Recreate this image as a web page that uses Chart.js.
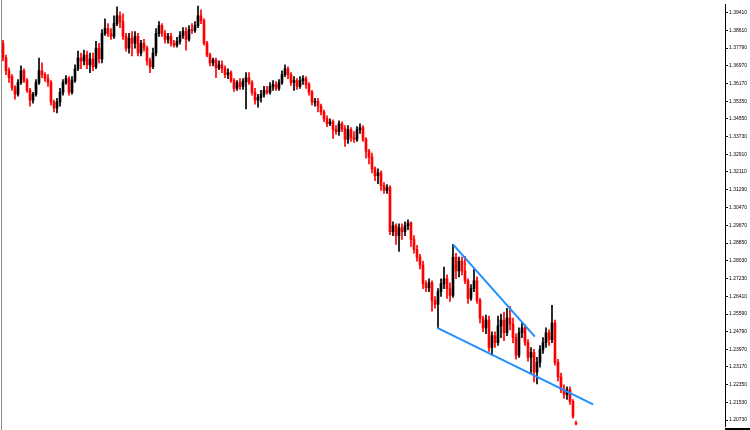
<!DOCTYPE html>
<html>
<head>
<meta charset="utf-8">
<title>Price chart</title>
<script src="https://cdn.jsdelivr.net/npm/chart.js@4/dist/chart.umd.min.js"></script>
<style>
  html, body { margin: 0; padding: 0; background: #fff; }
  #wrap { width: 750px; height: 430px; }
</style>
</head>
<body>
<div id="wrap"><canvas id="priceChart" width="750" height="430"></canvas></div>
<script>
// ── Candle data (one entry per bar, oldest first) ───────────
const opens = [
  1.38010,1.37335,1.36750,1.36480,1.35985,1.35670,1.36210,1.36750,1.36300,1.35850,1.35400,1.35670,1.36210,1.36750,1.36570,1.36390,1.36210,1.35310,1.35040,1.35310,1.35760,1.36210,1.36390,1.35760,1.36300,1.36840,1.37335,1.37200,1.37470,1.37020,1.37290,1.36930,1.37785,
  1.37290,1.38460,1.38685,1.38460,1.38325,1.38910,1.39270,1.39000,1.38325,1.37785,1.38235,1.38010,1.38325,1.37560,1.38010,1.37785,1.37200,1.36930,1.37560,1.38460,1.38820,1.38460,1.38190,1.38325,1.38010,1.37920,1.38100,1.38370,1.38550,1.38190,1.38640,1.38595,1.38820,
  1.39270,1.39045,1.38010,1.37470,1.37110,1.37245,1.36885,1.37020,1.36840,1.36570,1.36660,1.36300,1.35940,1.36210,1.36030,1.36255,1.36435,1.36210,1.35760,1.35400,1.35535,1.35670,1.35850,1.35760,1.36030,1.36120,1.35940,1.36210,1.36570,1.36840,1.36570,1.36210,1.36300,1.36030,
  1.36300,1.36390,1.36120,1.35760,1.35310,1.35355,1.35130,1.34860,1.34545,1.34320,1.34410,1.34050,1.33960,1.34320,1.34095,1.33600,1.34050,1.33690,1.33600,1.34050,1.34140,1.33600,1.33060,1.32790,1.32250,1.31935,1.32070,1.31485,1.31260,1.31395,1.29370,1.29640,1.29190,
  1.29550,1.29370,1.29640,1.29775,1.29010,1.28560,1.28200,1.27840,1.26985,1.26805,1.27030,1.26220,1.26040,1.26625,1.26985,1.27210,1.26760,1.26445,1.28200,1.27570,1.28020,1.27570,1.27120,1.26310,1.26760,1.27120,1.26220,1.25410,1.24960,1.25320,1.24060,1.24600,1.24285,
  1.25050,1.25320,1.24735,1.25410,1.25140,1.24510,1.23700,1.24735,1.24960,1.24285,1.23610,1.23835,1.22935,1.23385,1.23970,1.24285,1.24735,1.24420,1.25185,1.23385,1.22710,1.22125,1.21900,1.22125,1.21585,1.20595
];

const highs = [
  1.38145,1.37470,1.36885,1.36570,1.36075,1.36345,1.36975,1.36840,1.36390,1.35940,1.35760,1.36345,1.37335,1.37110,1.36660,1.36570,1.36300,1.35400,1.35490,1.35940,1.36345,1.36525,1.36480,1.36480,1.37020,1.37650,1.37560,1.37695,1.37650,1.37560,1.37560,1.38100,1.38010,
  1.38640,1.39135,1.38910,1.38685,1.39270,1.39675,1.39450,1.39360,1.38460,1.38460,1.38550,1.38550,1.38460,1.38145,1.38190,1.37875,1.37335,1.37785,1.38685,1.39000,1.38910,1.38595,1.38460,1.38460,1.38145,1.38280,1.38550,1.38730,1.38730,1.38820,1.38910,1.39000,1.39720,
  1.39540,1.39135,1.38100,1.37560,1.37335,1.37335,1.37200,1.37200,1.36975,1.36840,1.36750,1.36390,1.36300,1.36390,1.36390,1.36660,1.36660,1.36300,1.35940,1.35670,1.35850,1.36030,1.36030,1.36210,1.36300,1.36255,1.36345,1.36750,1.37020,1.36930,1.36660,1.36480,1.36390,1.36480,
  1.36525,1.36480,1.36210,1.35850,1.35490,1.35490,1.35220,1.34950,1.34680,1.34545,1.34500,1.34230,1.34455,1.34410,1.34230,1.34230,1.34140,1.33960,1.34185,1.34320,1.34230,1.33690,1.33150,1.32970,1.32340,1.32250,1.32160,1.31620,1.31530,1.31485,1.29820,1.29730,1.29730,
  1.29730,1.29820,1.29910,1.29820,1.29190,1.28740,1.28335,1.28020,1.27120,1.27210,1.27120,1.26400,1.26760,1.27210,1.27750,1.27390,1.27030,1.28785,1.28380,1.28200,1.28200,1.28245,1.27210,1.26940,1.27660,1.27300,1.26310,1.25500,1.25545,1.25500,1.24780,1.24780,1.25500,
  1.25590,1.25680,1.25860,1.25950,1.25410,1.24690,1.24960,1.25185,1.25095,1.24420,1.24060,1.23970,1.23610,1.24150,1.24510,1.24960,1.24870,1.25995,1.25320,1.23520,1.22890,1.22350,1.22260,1.22260,1.21675,1.20685
];

const lows = [
  1.37200,1.36570,1.36210,1.35850,1.35445,1.35580,1.36120,1.36210,1.35760,1.35130,1.35265,1.35580,1.36120,1.36435,1.36255,1.36030,1.35175,1.34860,1.34815,1.35130,1.35625,1.36120,1.35625,1.35670,1.36210,1.36750,1.36840,1.37020,1.36840,1.36660,1.36750,1.36840,1.37110,
  1.37110,1.38370,1.38325,1.38190,1.38235,1.38820,1.38730,1.38190,1.37650,1.37560,1.37425,1.37785,1.37425,1.37425,1.37650,1.37020,1.36660,1.36840,1.37425,1.38325,1.38325,1.38010,1.38010,1.37875,1.37830,1.37830,1.37965,1.38235,1.37695,1.38100,1.38460,1.38505,1.38730,
  1.38910,1.37920,1.37380,1.36975,1.36975,1.36435,1.36795,1.36660,1.36435,1.36390,1.36210,1.35805,1.35850,1.35895,1.35895,1.34995,1.36120,1.35625,1.35220,1.35085,1.35310,1.35535,1.35670,1.35670,1.35850,1.35850,1.35850,1.36120,1.36480,1.36390,1.36075,1.35850,1.35895,1.35940,
  1.36120,1.35940,1.35625,1.35175,1.35130,1.34860,1.34725,1.34410,1.34185,1.34230,1.33645,1.33825,1.33780,1.33960,1.33285,1.33420,1.33510,1.33465,1.33510,1.33870,1.33510,1.32745,1.32475,1.32070,1.31710,1.31575,1.31260,1.31125,1.31125,1.29235,1.29190,1.28785,1.28470,
  1.29010,1.29190,1.29460,1.28695,1.28380,1.28020,1.27660,1.26760,1.26625,1.26625,1.25725,1.25860,1.24960,1.26400,1.26760,1.26310,1.26175,1.26355,1.27210,1.27300,1.27390,1.26985,1.26085,1.26220,1.26625,1.26085,1.25185,1.24780,1.24690,1.23880,1.23700,1.24060,1.24150,
  1.24510,1.24375,1.24600,1.24870,1.24285,1.23520,1.23610,1.24510,1.24150,1.23430,1.22845,1.22485,1.22395,1.23160,1.23790,1.24060,1.24150,1.24285,1.23250,1.22530,1.21990,1.21720,1.21675,1.21450,1.20820,1.20505
];

const closes = [
  1.37335,1.36750,1.36435,1.35985,1.35670,1.36210,1.36750,1.36300,1.35850,1.35400,1.35670,1.36210,1.36750,1.36570,1.36390,1.36210,1.35310,1.35040,1.35310,1.35760,1.36210,1.36390,1.35760,1.36300,1.36840,1.37335,1.37200,1.37470,1.37020,1.37290,1.36930,1.37785,1.37290,
  1.38460,1.38685,1.38460,1.38325,1.38910,1.39270,1.39000,1.38325,1.37785,1.38235,1.38010,1.38325,1.37560,1.38010,1.37785,1.37200,1.36930,1.37560,1.38460,1.38820,1.38460,1.38190,1.38325,1.38010,1.37920,1.38100,1.38370,1.38550,1.38190,1.38640,1.38595,1.38820,1.39270,
  1.39045,1.38010,1.37470,1.37110,1.37245,1.36885,1.37020,1.36840,1.36570,1.36660,1.36300,1.35940,1.36210,1.36030,1.36255,1.36435,1.36210,1.35760,1.35400,1.35535,1.35670,1.35850,1.35760,1.36030,1.36120,1.35940,1.36210,1.36570,1.36840,1.36570,1.36210,1.36300,1.36030,1.36300,
  1.36390,1.36120,1.35760,1.35310,1.35355,1.35130,1.34860,1.34545,1.34320,1.34410,1.34050,1.33960,1.34320,1.34095,1.33600,1.34050,1.33690,1.33600,1.34050,1.34140,1.33600,1.33060,1.32790,1.32250,1.31935,1.32070,1.31485,1.31260,1.31395,1.29370,1.29640,1.29190,1.29550,
  1.29370,1.29640,1.29775,1.29010,1.28560,1.28200,1.27840,1.26985,1.26805,1.27030,1.26220,1.26040,1.26625,1.26985,1.27210,1.26760,1.26445,1.28200,1.27570,1.28020,1.27570,1.27120,1.26310,1.26760,1.27120,1.26220,1.25410,1.24960,1.25320,1.24060,1.24600,1.24285,1.25050,
  1.25320,1.24735,1.25410,1.25140,1.24510,1.23700,1.24735,1.24960,1.24285,1.23610,1.23835,1.22935,1.23385,1.23970,1.24285,1.24735,1.24420,1.25185,1.23385,1.22710,1.22125,1.21900,1.22125,1.21585,1.20910,1.20550
];

// ── Wedge lines drawn on the chart (bar index, price) ───────
const upperLineIdx = [150, 177.3];
const upperLinePrice = [1.28785, 1.24555];
const lowerLineIdx = [144.8, 196.7];
const lowerLinePrice = [1.24960, 1.21450];

// ── Price axis ──────────────────────────────────────────────
const tickValues = [
  1.39410, 1.38610, 1.37790, 1.36970, 1.36170, 1.35350, 1.34550, 1.33730,
  1.32910, 1.32110, 1.31290, 1.30470, 1.29670, 1.28850, 1.28030, 1.27230,
  1.26410, 1.25590, 1.24790, 1.23970, 1.23170, 1.22350, 1.21530, 1.20730
];
const priceMin = 1.2046;
const priceMax = 1.3981;

const BULL = '#000000';
const BEAR = '#ff0000';
const LINE_BLUE = '#1e90ff';

const candleColors = opens.map((o, i) => (closes[i] >= o ? BULL : BEAR));

// frame lines: grey left edge, black strip under the price scale
const framePlugin = {
  id: 'frame',
  afterDraw(chart) {
    const { ctx, chartArea } = chart;
    ctx.save();
    ctx.strokeStyle = '#8c8c8c';
    ctx.lineWidth = 1;
    ctx.beginPath();
    ctx.moveTo(1.5, 0);
    ctx.lineTo(1.5, chart.height);
    ctx.stroke();
    ctx.strokeStyle = '#000';
    ctx.lineWidth = 2;
    ctx.beginPath();
    ctx.moveTo(chartArea.right, chart.height - 1);
    ctx.lineTo(chart.width, chart.height - 1);
    ctx.stroke();
    ctx.restore();
  }
};

document.addEventListener('DOMContentLoaded', () => {
  const ctx = document.getElementById('priceChart').getContext('2d');

  new Chart(ctx, {
    type: 'bar',
    data: {
      datasets: [
        {
          label: 'Wick',
          data: opens.map((_, i) => ({ x: i, y: [lows[i], highs[i]] })),
          backgroundColor: candleColors,
          barThickness: 1,
          grouped: false,
          order: 3
        },
        {
          label: 'Body',
          data: opens.map((o, i) => ({ x: i, y: [o, closes[i]] })),
          backgroundColor: candleColors,
          barThickness: 2,
          minBarLength: 1,
          grouped: false,
          order: 2
        },
        {
          type: 'line',
          label: 'Upper',
          data: upperLineIdx.map((x, i) => ({ x, y: upperLinePrice[i] })),
          borderColor: LINE_BLUE,
          borderWidth: 2,
          pointRadius: 0,
          order: 1
        },
        {
          type: 'line',
          label: 'Lower',
          data: lowerLineIdx.map((x, i) => ({ x, y: lowerLinePrice[i] })),
          borderColor: LINE_BLUE,
          borderWidth: 2,
          pointRadius: 0,
          order: 1
        }
      ]
    },
    options: {
      responsive: false,
      animation: false,
      devicePixelRatio: 1,
      layout: { padding: 0 },
      plugins: {
        legend: { display: false },
        tooltip: { enabled: false }
      },
      scales: {
        x: { type: 'linear', min: -1, max: 240.67, offset: false, display: false },
        y: {
          position: 'right',
          min: priceMin,
          max: priceMax,
          afterBuildTicks: (scale) => { scale.ticks = tickValues.map(v => ({ value: v })); },
          afterFit: (scale) => { scale.width = 25; },
          grid: { drawOnChartArea: false, tickLength: 3, color: '#000' },
          border: { color: '#000', width: 1 },
          ticks: {
            padding: 1,
            color: '#000',
            font: { family: 'Liberation Sans', size: 5 },
            callback: (v) => Number(v).toFixed(5)
          }
        }
      }
    },
    plugins: [framePlugin]
  });
});
</script>
</body>
</html>
